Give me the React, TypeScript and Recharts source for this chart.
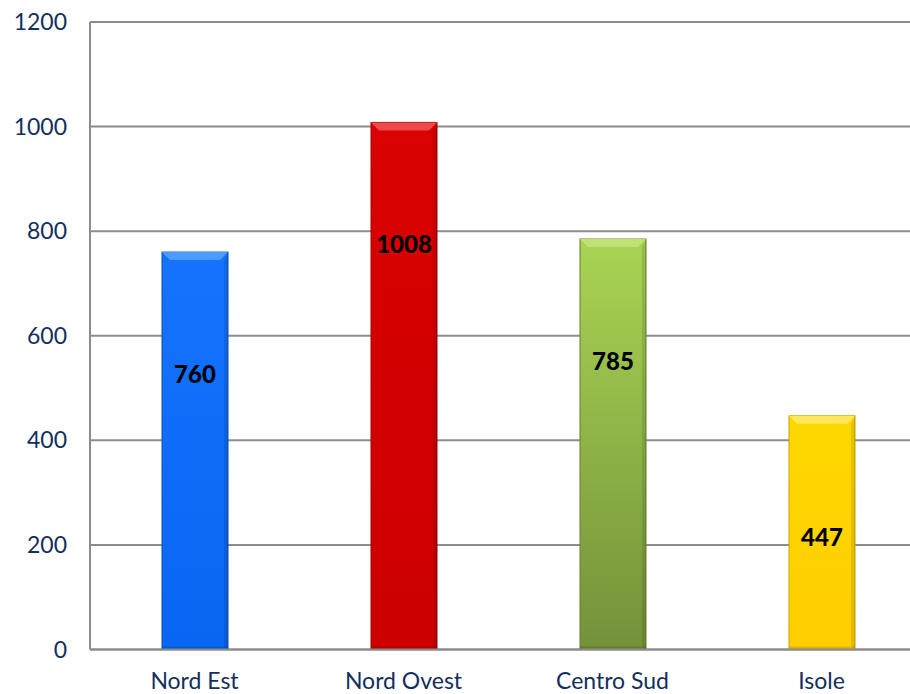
import React from 'react';
import { BarChart, Bar, XAxis, YAxis, CartesianGrid, Cell, LabelList } from 'recharts';

const regions = ['Nord Est', 'Nord Ovest', 'Centro Sud', 'Isole'];
const counts = [760, 1008, 785, 447];
const yTicks = [0, 200, 400, 600, 800, 1000, 1200];

// top, bottom, bevel, border
const palette = [
  ['#1573FF', '#0866F0', '#4C9BFF', '#0B4FB3'],
  ['#DA0202', '#CC0000', '#EE4A4A', '#9E0000'],
  ['#A9D453', '#74913A', '#C0E274', '#64802F'],
  ['#FFD800', '#FFCE00', '#FFE75A', '#C9A000'],
];

const data = regions.map((name, i) => ({ name, value: counts[i] }));

const FONT = 'Lato, "Open Sans", sans-serif';
const TEXT = '#132F5C';

const BevelBar = (props: any) => {
  const { x, y, width, height, index } = props;
  const c = palette[index];
  const b = 8;
  return (
    <g>
      <rect x={x} y={y} width={width} height={height} fill={`url(#grad${index})`} stroke={c[3]} strokeWidth={1} />
      <polygon
        points={`${x},${y} ${x + width},${y} ${x + width - b},${y + b} ${x + b},${y + b}`}
        fill={c[2]}
      />
      <polygon
        points={`${x + width},${y} ${x + width - b * 0.5},${y + b} ${x + width - b * 0.5},${y + height - 3} ${x + width},${y + height}`}
        fill="#000000"
        opacity={0.1}
      />
      <rect x={x} y={y + height - 3} width={width} height={3} fill="#000000" opacity={0.12} />
    </g>
  );
};

const renderLabel = (props: any) => {
  const { x, y, width, value } = props;
  return (
    <text
      x={x + width / 2}
      y={y + 121}
      textAnchor="middle"
      dominantBaseline="central"
      fontFamily={FONT}
      fontWeight={900}
      fontSize={24}
      fill="#000000"
    >
      {value}
    </text>
  );
};

export default function App() {
  return (
    <div style={{ position: 'absolute', left: 0, top: 0, width: 910, height: 694, overflow: 'hidden', background: '#fff' }}>
      <BarChart width={940} height={694} data={data} margin={{ top: 22, right: 14, left: 0, bottom: 0 }}>
        <defs>
          {palette.map((c, i) => (
            <linearGradient key={i} id={`grad${i}`} x1="0" y1="0" x2="0" y2="1">
              <stop offset="0%" stopColor={c[0]} />
              <stop offset="100%" stopColor={c[1]} />
            </linearGradient>
          ))}
        </defs>
        <CartesianGrid vertical={false} stroke="#8C8C8C" strokeWidth={2} />
        <XAxis
          dataKey="name"
          height={44.5}
          tickLine={false}
          axisLine={{ stroke: '#8C8C8C', strokeWidth: 2 }}
          tickMargin={17}
          tick={{ fill: TEXT, fontFamily: FONT, fontSize: 23 }}
        />
        <YAxis
          width={90}
          domain={[0, 1200]}
          ticks={yTicks}
          tickLine={false}
          axisLine={{ stroke: '#8C8C8C', strokeWidth: 2 }}
          tickMargin={17}
          tick={{ fill: TEXT, fontFamily: FONT, fontSize: 23 }}
        />
        <Bar dataKey="value" barSize={66} shape={BevelBar} isAnimationActive={false}>
          {data.map((d, i) => (
            <Cell key={d.name} fill={palette[i][0]} />
          ))}
          <LabelList dataKey="value" content={renderLabel} />
        </Bar>
      </BarChart>
    </div>
  );
}
